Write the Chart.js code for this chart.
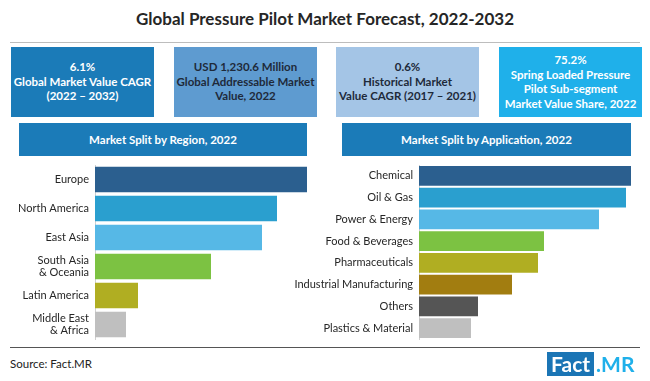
<!DOCTYPE html>
<html>
<head>
<meta charset="utf-8">
<script src="https://cdn.jsdelivr.net/npm/chart.js@4.4.0/dist/chart.umd.min.js"></script>
<style>
  html, body { margin:0; padding:0; background:#fff; }
  body { width:650px; height:381px; position:relative; overflow:hidden; font-family: Lato, "Open Sans", sans-serif; }
  .abs { position:absolute; }
  #title { left:0; width:650px; top:8px; text-align:center; font-weight:bold; font-size:17px; color:#262626; }
  #rule1 { left:10px; width:630px; top:42px; height:1px; background:#bdbdbd; }
  .box { top:47px; height:70px; width:143px; display:flex; align-items:center; justify-content:center; text-align:center; font-weight:bold; font-size:11.5px; line-height:14.5px; }
  .hdr { top:123px; height:33px; display:flex; align-items:center; justify-content:center; background:#1b7bb8; color:#fff; font-weight:bold; font-size:11.5px; }
  #rule2 { left:10px; width:630px; top:347px; height:1px; background:#555; }
  #src { left:10px; top:357px; font-size:11.5px; color:#222; }
  #logo { left:547px; top:352px; height:24px; display:flex; font-weight:bold; font-size:21px; line-height:24px; }
  #logo .f { background:#1b75b5; color:#fff; padding:0 4px; }
  #logo .m { color:#1fb0ea; padding-left:2px; }
</style>
</head>
<body>
<div id="title" class="abs">Global Pressure Pilot Market Forecast, 2022-2032</div>
<div id="rule1" class="abs"></div>

<div class="abs box" style="left:11px;background:#1b7bb8;color:#fff;">6.1%<br>Global Market Value CAGR<br>(2022 – 2032)</div>
<div class="abs box" style="left:174px;background:#5e9bd0;color:#1e2a3a;">USD 1,230.6 Million<br>Global Addressable Market<br>Value, 2022</div>
<div class="abs box" style="left:336px;background:#a4c5e6;color:#1e2a3a;">0.6%<br>Historical Market<br>Value CAGR (2017 – 2021)</div>
<div class="abs box" style="left:499px;background:#1fb0ea;color:#fff;">75.2%<br>Spring Loaded Pressure<br>Pilot Sub-segment<br>Market Value Share, 2022</div>

<div class="abs hdr" style="left:19px;width:288px;">Market Split by Region, 2022</div>
<div class="abs hdr" style="left:342px;width:289px;">Market Split by Application, 2022</div>

<div class="abs" style="left:0px;top:160px;width:312px;height:184px;"><canvas id="c1"></canvas></div>
<div class="abs" style="left:285px;top:160px;width:350px;height:184px;"><canvas id="c2"></canvas></div>

<div id="rule2" class="abs"></div>
<div id="src" class="abs">Source: Fact.MR</div>
<div id="logo" class="abs"><span class="f">Fact</span><span class="m">.MR</span></div>

<script>
// ---- Data ----
const regionLabels = ["Europe", "North America", "East Asia", ["South Asia", "& Oceania"], "Latin America", ["Middle East", "& Africa"]];
const regionValues = [212, 182, 167, 116, 43, 31];
const regionColors = ["#2b5f8f", "#2a9fcf", "#56b8e6", "#7cc242", "#b0ae22", "#bfbfbf"];

const appLabels = ["Chemical", "Oil & Gas", "Power & Energy", "Food & Beverages", "Pharmaceuticals", "Industrial Manufacturing", "Others", "Plastics & Material"];
const appValues = [212, 207, 180, 125, 119, 93, 59, 52];
const appColors = ["#2b5f8f", "#2a9fcf", "#56b8e6", "#7cc242", "#b0ae22", "#a27d10", "#555555", "#bfbfbf"];

function makeChart(id, labels, values, colors, axisWidth, barPct, padRight) {
  return new Chart(document.getElementById(id), {
    type: 'bar',
    data: { labels: labels, datasets: [{ data: values, backgroundColor: colors, barPercentage: barPct, categoryPercentage: 1 }] },
    options: {
      indexAxis: 'y',
      responsive: true,
      maintainAspectRatio: false,
      animation: false,
      layout: { padding: { top: 5, bottom: 5, right: padRight, left: 0 } },
      plugins: { legend: { display: false }, tooltip: { enabled: false } },
      scales: {
        x: { display: false, min: 0, max: 212 },
        y: {
          grid: { display: false, drawTicks: false },
          border: { display: true, color: '#d0d0d0', width: 1 },
          ticks: { color: '#262626', font: { family: 'Lato', size: 11, lineHeight: 1.15 }, padding: 6, autoSkip: false },
          afterFit: function(s) { s.width = axisWidth; s.paddingTop = 0; s.paddingBottom = 0; }
        }
      }
    }
  });
}
makeChart('c1', regionLabels, regionValues, regionColors, 95, 0.88, 5);
makeChart('c2', appLabels, appValues, appColors, 134, 0.9, 4);
</script>
</body>
</html>
